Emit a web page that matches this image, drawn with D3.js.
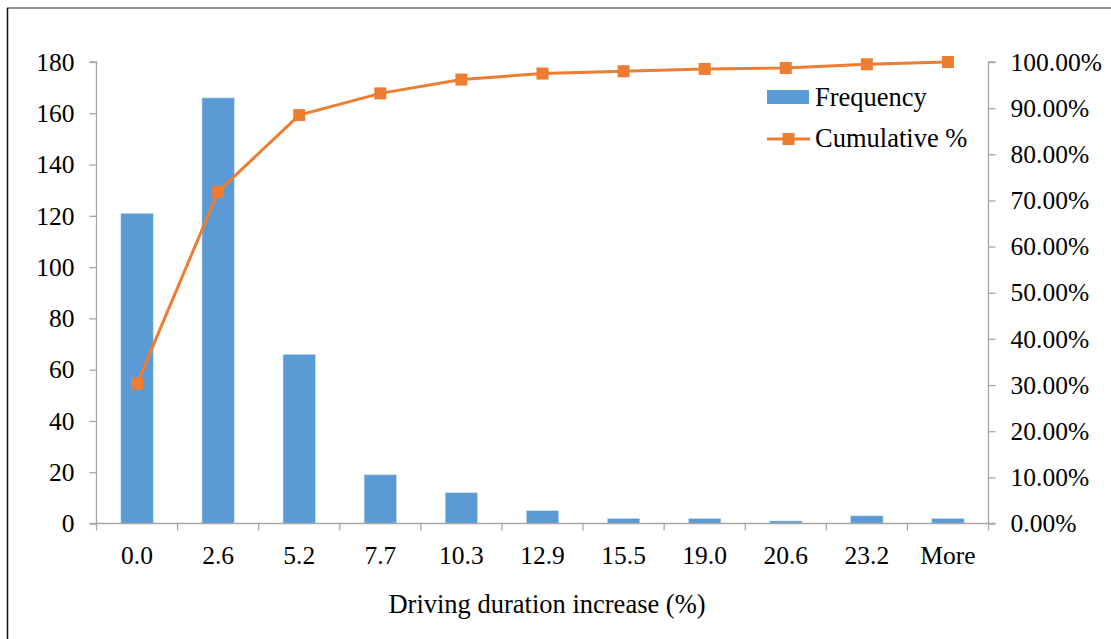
<!DOCTYPE html>
<html>
<head>
<meta charset="utf-8">
<script src="https://cdn.jsdelivr.net/npm/d3@7"></script>
<style>
  body { margin: 0; background: #fff; }
  text { font-family: "Liberation Serif", "Times New Roman", serif; fill: #000; }
</style>
</head>
<body>
<svg id="chart"></svg>
<script>
// data
const categories = ['0.0', '2.6', '5.2', '7.7', '10.3', '12.9', '15.5', '19.0', '20.6', '23.2', 'More'];
const frequency = [121, 166, 66, 19, 12, 5, 2, 2, 1, 3, 2];
const cumulative = [30.3, 71.9, 88.5, 93.2, 96.2, 97.5, 98.0, 98.5, 98.7, 99.5, 100];
const leftTicks = [0, 20, 40, 60, 80, 100, 120, 140, 160, 180];
const rightTicks = [0, 10, 20, 30, 40, 50, 60, 70, 80, 90, 100];

const width = 1111, height = 639;
const plotL = 96.5, plotR = 988.5, plotT = 62, plotB = 523.5;
const blue = '#5b9bd5', orange = '#ed7d31', axisColor = '#a6a6a6';
const tickFont = '25.5px', labelFont = '26.5px';

const svg = d3.select('#chart')
  .attr('width', width)
  .attr('height', height);

// frame (top + left edges)
svg.append('line').attr('x1', 7).attr('x2', width).attr('y1', 8).attr('y2', 8)
  .attr('stroke', '#6b6b6b').attr('stroke-width', 1.5);
svg.append('line').attr('x1', 7.5).attr('x2', 7.5).attr('y1', 8).attr('y2', height)
  .attr('stroke', '#111').attr('stroke-width', 1.5);

const x = d3.scaleBand().domain(categories).range([plotL, plotR]);
const y = d3.scaleLinear().domain([0, 180]).range([plotB, plotT]);
const y2 = d3.scaleLinear().domain([0, 100]).range([plotB, plotT]);
const cx = c => x(c) + x.bandwidth() / 2;
const barW = 32.4;

// bars
svg.selectAll('.bar')
  .data(frequency)
  .enter()
  .append('rect')
  .attr('class', 'bar')
  .attr('x', (d, i) => cx(categories[i]) - barW / 2)
  .attr('y', d => y(d))
  .attr('width', barW)
  .attr('height', d => plotB - y(d))
  .attr('fill', blue)
  .attr('stroke', '#cfe0f1')
  .attr('stroke-width', 0.6);

// left axis
const gLeft = svg.append('g')
  .attr('transform', `translate(${plotL},0)`)
  .call(d3.axisLeft(y).tickValues(leftTicks).tickSize(7).tickPadding(15));

// right axis
const gRight = svg.append('g')
  .attr('transform', `translate(${plotR},0)`)
  .call(d3.axisRight(y2).tickValues(rightTicks).tickSize(7).tickPadding(15)
    .tickFormat(d => d.toFixed(2) + '%'));

// bottom axis: ticks at band boundaries
const gBottom = svg.append('g')
  .attr('transform', `translate(0,${plotB})`);
gBottom.append('line')
  .attr('x1', plotL - 7).attr('x2', plotR + 7)
  .attr('stroke', axisColor).attr('stroke-width', 1.3);
gBottom.selectAll('.tk')
  .data(categories.concat(['end']))
  .enter()
  .append('line')
  .attr('x1', (d, i) => plotL + i * x.step())
  .attr('x2', (d, i) => plotL + i * x.step())
  .attr('y1', 0).attr('y2', 7)
  .attr('stroke', axisColor).attr('stroke-width', 1.3);
gBottom.selectAll('.lbl')
  .data(categories)
  .enter()
  .append('text')
  .attr('x', d => cx(d))
  .attr('y', 40)
  .attr('text-anchor', 'middle')
  .style('font-size', tickFont)
  .text(d => d);

[gLeft, gRight].forEach(g => {
  g.select('.domain').attr('stroke', axisColor).attr('stroke-width', 1.3);
  g.selectAll('.tick line').attr('stroke', axisColor).attr('stroke-width', 1.3);
  g.selectAll('.tick text').style('font-size', tickFont).attr('fill', '#000');
});
gLeft.select('.domain').attr('d', `M-7,${plotT}H0V${plotB}`);
gRight.select('.domain').attr('d', `M7,${plotT}H0V${plotB}`);

// cumulative line
const line = d3.line()
  .x((d, i) => cx(categories[i]))
  .y(d => y2(d));

svg.append('path')
  .datum(cumulative)
  .attr('d', line)
  .attr('fill', 'none')
  .attr('stroke', orange)
  .attr('stroke-width', 3);

svg.selectAll('.marker')
  .data(cumulative)
  .enter()
  .append('rect')
  .attr('class', 'marker')
  .attr('x', (d, i) => cx(categories[i]) - 6)
  .attr('y', d => y2(d) - 6)
  .attr('width', 12)
  .attr('height', 12)
  .attr('fill', orange);

// x title
svg.append('text')
  .attr('x', 547)
  .attr('y', 613)
  .attr('text-anchor', 'middle')
  .style('font-size', labelFont)
  .text('Driving duration increase (%)');

// legend
const legend = svg.append('g');
legend.append('rect')
  .attr('x', 767).attr('y', 90).attr('width', 42).attr('height', 14)
  .attr('fill', blue);
legend.append('text')
  .attr('x', 815).attr('y', 106)
  .style('font-size', labelFont)
  .text('Frequency');
legend.append('line')
  .attr('x1', 767).attr('x2', 810).attr('y1', 139).attr('y2', 139)
  .attr('stroke', orange).attr('stroke-width', 3);
legend.append('rect')
  .attr('x', 782.5).attr('y', 133).attr('width', 12).attr('height', 12)
  .attr('fill', orange);
legend.append('text')
  .attr('x', 815).attr('y', 147)
  .style('font-size', labelFont)
  .text('Cumulative %');
</script>
</body>
</html>
